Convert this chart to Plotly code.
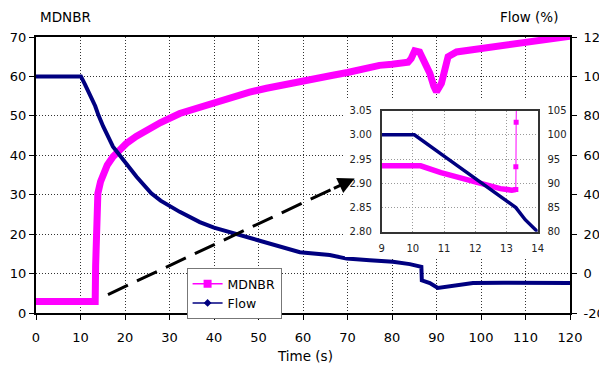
import plotly.graph_objects as go

# ---------------- data ----------------
time_mdnbr = [0, 5, 10, 13.3, 13.4, 13.6, 13.9, 14.5, 15.1, 16, 17.3, 18.5, 20.3, 22.5, 24.8, 28,
              32.3, 36.8, 40, 44.3, 48, 51.8, 55, 59.3, 63, 66.7, 70, 74.3, 75.5, 77.2, 80, 83.6,
              84.3, 85.1, 86.2, 87.3, 88.5, 89.4, 90.0, 91.1, 92.6, 94.5, 97, 99.7, 102.7, 106.4,
              110.3, 115, 120]
mdnbr = [2.93, 2.93, 2.93, 2.89, 12, 26, 30.3, 33.3, 35.4, 37.5, 39.6, 41.2, 43, 44.8, 46.4, 48.3,
         50.6, 52.2, 53.4, 54.8, 56, 57, 57.8, 58.8, 59.6, 60.3, 61, 62.1, 62.6, 62.8, 63.1, 63.6,
         64.5, 66.5, 66.2, 63.8, 60.8, 57.5, 56.1, 58.2, 65, 66.2, 66.6, 67.1, 67.3, 68.2,
         68.8, 69.4, 70.2]

time_flow = [0, 5, 10.1, 11, 12, 12.8, 13.3, 14, 15.1, 17.3, 19.6, 22.6, 25.9, 28, 32.3, 36.8, 40,
             44.3, 48, 51.8, 55, 59.3, 66, 69.8, 75, 80.2, 84, 86.6, 86.7, 88.5, 90.3, 93, 98.2,
             105, 120]
flow = [100, 100, 100, 96, 91.5, 87.5, 85, 80.5, 74.6, 64.4, 57.6, 49.1, 40.7, 37, 31.3, 26.1, 23.3,
        20.5, 17.8, 15.4, 13.5, 10.8, 9.4, 7.6, 6.8, 6.0, 4.8, 3.4, -3.4, -4.8, -7.3, -6.3, -4.8,
        -4.6, -4.8]

inset_time_mdnbr = [9, 10.25, 10.9, 12.0, 12.8, 13.17, 13.3]
inset_mdnbr = [2.936, 2.936, 2.922, 2.902, 2.889, 2.886, 2.887]
inset_time_jump = [13.3, 13.3, 13.31, 13.34]
inset_mdnbr_jump = [2.887, 2.934, 3.026, 3.2]
inset_time_flow = [9, 10.05, 11, 12, 13, 13.3, 13.6, 14]
inset_flow = [100, 100, 95.6, 91.0, 86.4, 85, 82.5, 80]

x_ticks = list(range(0, 121, 10))
left_ticks = list(range(0, 71, 10))
right_ticks = list(range(-20, 121, 20))
right_tick_labels = [str(v) for v in right_ticks]   # plain hyphen for "-20"
inset_x_ticks = [9, 10, 11, 12, 13, 14]
inset_left_ticks = [2.80, 2.85, 2.90, 2.95, 3.00, 3.05]
inset_right_ticks = [80, 85, 90, 95, 100, 105]

MAG = "#FF00FF"
NAVY = "#000080"
FONT = "DejaVu Sans"

fig = go.Figure()

fig.add_trace(go.Scatter(x=time_mdnbr, y=mdnbr, mode="lines", xaxis="x", yaxis="y",
                         line=dict(color=MAG, width=7), showlegend=False))
fig.add_trace(go.Scatter(x=time_flow, y=flow, mode="lines", xaxis="x", yaxis="y2",
                         line=dict(color=NAVY, width=4), showlegend=False))

fig.add_trace(go.Scatter(x=[None], y=[None], mode="lines+markers", name="MDNBR",
                         line=dict(color=MAG, width=1.5),
                         marker=dict(symbol="square", size=8, color=MAG)))
fig.add_trace(go.Scatter(x=[None], y=[None], mode="lines+markers", name="Flow",
                         line=dict(color=NAVY, width=1.5),
                         marker=dict(symbol="diamond", size=6, color=NAVY)))

# empty trace that creates the white backing panel of the inset
fig.add_trace(go.Scatter(x=[None], y=[None], xaxis="x2", yaxis="y5", showlegend=False,
                         hoverinfo="skip"))

fig.add_trace(go.Scatter(x=inset_time_mdnbr, y=inset_mdnbr, mode="lines", xaxis="x3", yaxis="y3",
                         line=dict(color=MAG, width=5.5), showlegend=False))
fig.add_trace(go.Scatter(x=inset_time_jump, y=inset_mdnbr_jump, mode="lines+markers",
                         xaxis="x3", yaxis="y3",
                         line=dict(color=MAG, width=1),
                         marker=dict(symbol="square", size=5, color=MAG), showlegend=False))
fig.add_trace(go.Scatter(x=inset_time_flow, y=inset_flow, mode="lines", xaxis="x3", yaxis="y4",
                         line=dict(color=NAVY, width=3.5), showlegend=False))

axis_common = dict(showline=True, linecolor="black", linewidth=2, ticks="outside", ticklen=5,
                   tickcolor="black", zeroline=False, automargin=False,
                   tickfont=dict(size=13, color="black"))
inset_common = dict(showline=True, linecolor="#333333", linewidth=1.5, ticks="",
                    zeroline=False, automargin=False, ticklabelstandoff=6,
                    tickfont=dict(size=10, color="#222222"))
MAIN_GRID = dict(showgrid=True, gridcolor="#333333", gridwidth=1, griddash="1px,2px")
INSET_GRID = dict(showgrid=True, gridcolor="#999999", gridwidth=1, griddash="1px,2px")

fig.update_layout(
    width=599, height=359,
    margin=dict(l=28, r=37, t=29, b=54),
    paper_bgcolor="white", plot_bgcolor="white",
    font=dict(family=FONT, size=13, color="black"),
    showlegend=True,
    legend=dict(x=0.282, y=0.163, xanchor="left", yanchor="top",
                bgcolor="white", bordercolor="#777777", borderwidth=1,
                font=dict(size=12.5, color="black"), itemwidth=30,
                tracegroupgap=0),
    xaxis=dict(domain=[0, 1], range=[0, 120], tickvals=x_ticks, anchor="y", mirror=True,
               ticklabelstandoff=6, **MAIN_GRID, **axis_common),
    yaxis=dict(domain=[0, 1], range=[0, 70], tickvals=left_ticks, anchor="x",
               ticklabelstandoff=0, **MAIN_GRID, **axis_common),
    yaxis2=dict(overlaying="y", side="right", range=[-20, 120], tickvals=right_ticks,
                ticktext=right_tick_labels,
                anchor="x", showgrid=False, ticklabelstandoff=4, **axis_common),
    xaxis2=dict(domain=[0.5787, 0.9963], anchor="y5", range=[0, 1], visible=False,
                showgrid=False, zeroline=False),
    yaxis5=dict(domain=[0.2029, 0.7717], anchor="x2", range=[0, 1], visible=False,
                showgrid=False, zeroline=False),
    xaxis3=dict(domain=[0.6472, 0.9395], anchor="y3", range=[9, 14], tickvals=inset_x_ticks,
                mirror=True, **INSET_GRID, **inset_common),
    yaxis3=dict(domain=[0.2941, 0.7335], anchor="x3", range=[2.80, 3.05],
                tickvals=inset_left_ticks, tickformat=".2f", **INSET_GRID, **inset_common),
    yaxis4=dict(overlaying="y3", side="right", anchor="x3", range=[80, 105],
                tickvals=inset_right_ticks, showgrid=False, **inset_common),
)

# dashed arrow from the jump to the inset
fig.add_shape(type="line", xref="x", yref="y", x0=16.18, y0=4.67, x1=66.6, y1=31.45,
              line=dict(color="black", width=3, dash="22px,10px"), layer="above")
fig.add_annotation(x=71.6, y=34.1, ax=66.6, ay=31.45, xref="x", yref="y", axref="x", ayref="y",
                   text="", showarrow=True, arrowhead=2, arrowsize=1.1, arrowwidth=3,
                   arrowcolor="black", standoff=0)

fig.add_annotation(text="MDNBR", xref="paper", yref="paper", x=0.003, y=1.072,
                   xanchor="left", yanchor="middle", showarrow=False,
                   font=dict(size=13.5, color="black"))
fig.add_annotation(text="Flow (%)", xref="paper", yref="paper", x=0.981, y=1.072,
                   xanchor="right", yanchor="middle", showarrow=False,
                   font=dict(size=13.5, color="black"))
fig.add_annotation(text="Time (s)", xref="paper", yref="paper", x=0.504, y=-0.156,
                   xanchor="center", yanchor="middle", showarrow=False,
                   font=dict(size=13.5, color="black"))

fig.write_html("out.html")
